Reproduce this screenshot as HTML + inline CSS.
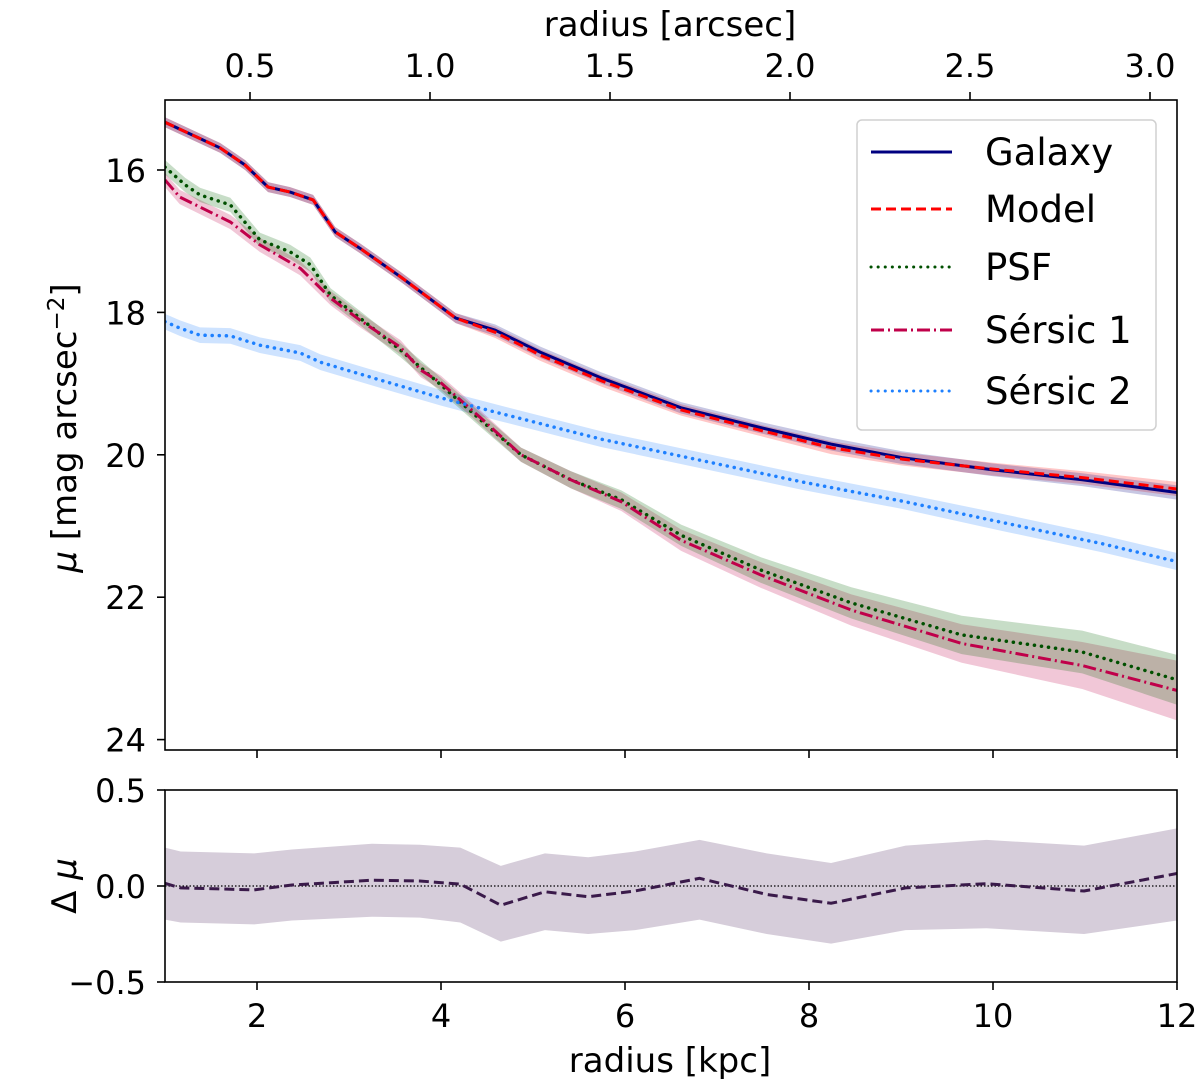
<!DOCTYPE html>
<html><head><meta charset="utf-8"><style>
html,body{margin:0;padding:0;background:#fff}
svg{display:block;font-family:"DejaVu Sans","Liberation Sans",sans-serif}
</style></head><body>
<svg id="chart" width="1200" height="1092" viewBox="0 0 1200 1092"></svg>
<script>
// ---- data ----
const galaxyX=[1.0,1.6,1.87,2.12,2.36,2.61,2.85,3.12,3.56,4.16,4.59,5.08,5.74,6.61,7.48,8.24,9.01,9.99,10.97,12];
const galaxyY=[15.33,15.69,15.93,16.24,16.31,16.42,16.87,17.1,17.5,18.08,18.25,18.56,18.92,19.34,19.62,19.85,20.04,20.21,20.35,20.53];
const galaxyErr=[0.07,0.07,0.07,0.07,0.07,0.07,0.07,0.07,0.07,0.07,0.08,0.08,0.08,0.08,0.08,0.09,0.09,0.09,0.09,0.1];
const modelX=[1.0,1.6,1.87,2.12,2.36,2.61,2.85,3.12,3.56,4.16,4.59,5.08,5.74,6.61,7.48,8.24,9.01,9.99,10.97,12];
const modelY=[15.33,15.69,15.93,16.24,16.31,16.42,16.87,17.1,17.5,18.08,18.28,18.6,18.96,19.37,19.66,19.9,20.06,20.2,20.32,20.48];
const modelErr=[0.07,0.07,0.07,0.07,0.07,0.07,0.07,0.07,0.07,0.07,0.08,0.08,0.08,0.08,0.08,0.09,0.09,0.09,0.09,0.1];
const psfX=[1.0,1.22,1.38,1.71,2.03,2.36,2.58,2.8,3.12,3.56,4.0,4.43,4.87,5.41,5.96,6.61,7.48,8.46,9.66,10.97,12];
const psfY=[15.96,16.21,16.35,16.49,16.98,17.15,17.33,17.76,18.08,18.53,19.02,19.51,20.0,20.35,20.63,21.13,21.62,22.08,22.53,22.77,23.16];
const psfErr=[0.1,0.1,0.1,0.1,0.1,0.1,0.1,0.1,0.1,0.1,0.1,0.1,0.1,0.12,0.13,0.15,0.18,0.22,0.27,0.3,0.35];
const s1X=[1.0,1.16,1.71,2.03,2.47,2.8,3.12,3.56,3.78,4.0,4.43,4.87,5.41,5.96,6.61,7.48,8.46,9.66,10.97,12];
const s1Y=[16.14,16.38,16.73,17.05,17.38,17.8,18.11,18.49,18.81,18.99,19.48,20.0,20.35,20.66,21.2,21.69,22.18,22.65,22.96,23.31];
const s1Err=[0.1,0.1,0.1,0.1,0.1,0.1,0.1,0.1,0.1,0.1,0.1,0.1,0.12,0.13,0.15,0.18,0.22,0.27,0.33,0.42];
const s2X=[1.0,1.16,1.38,1.71,2.03,2.47,2.69,3.34,4.0,4.65,5.74,6.83,7.92,9.01,10.1,11.19,12];
const s2Y=[18.13,18.22,18.32,18.33,18.46,18.57,18.7,18.95,19.2,19.42,19.78,20.08,20.38,20.65,20.95,21.25,21.5];
const s2Err=[0.11,0.11,0.11,0.11,0.11,0.11,0.11,0.11,0.11,0.11,0.11,0.11,0.11,0.11,0.12,0.12,0.12];
const resX=[1.0,1.17,1.97,2.38,3.25,3.77,4.21,4.65,5.13,5.6,6.11,6.81,7.54,8.24,9.05,9.93,10.99,12];
const resY=[0.014,-0.01,-0.02,0.005,0.03,0.026,0.01,-0.1,-0.03,-0.056,-0.026,0.04,-0.044,-0.09,-0.01,0.012,-0.026,0.065];
const resUp=[0.2,0.18,0.17,0.19,0.22,0.215,0.2,0.105,0.17,0.15,0.18,0.24,0.17,0.12,0.21,0.24,0.21,0.3];
const resLo=[-0.175,-0.19,-0.2,-0.18,-0.16,-0.165,-0.19,-0.29,-0.23,-0.25,-0.23,-0.175,-0.25,-0.3,-0.23,-0.22,-0.25,-0.18];
const xTicks=[2,4,6,8,10,12];
const yTicks=[16,18,20,22,24];
const rTicks=[0.5,0,-0.5];
const rTickLabels=["0.5","0.0","\u22120.5"];
const arcTicks=[0.5,1.0,1.5,2.0,2.5,3.0];
const arcTickLabels=["0.5","1.0","1.5","2.0","2.5","3.0"];

// ---- geometry ----
const L=165,R=1177,T1=100,B1=750,T2=790,B2=982;
const xs=v=>L+(v-1)*(R-L)/11;
const ys=v=>170+(v-16)*71.2;
const yr=v=>886-v*192;
const xa=a=>250+(a-0.5)*360;
const svg=document.getElementById('chart');
const NS='http://www.w3.org/2000/svg';
function mk(tag,attrs,parent){const e=document.createElementNS(NS,tag);for(const k in attrs)e.setAttribute(k,attrs[k]);(parent||svg).appendChild(e);return e;}
function txt(s,x,y,size,anchor,parent){const t=mk('text',{x:x,y:y,'font-size':size,'text-anchor':anchor||'middle',fill:'#000'},parent);t.textContent=s;return t;}

const defs=mk('defs',{});
const c1=mk('clipPath',{id:'c1'},defs);mk('rect',{x:L,y:T1,width:R-L,height:B1-T1},c1);
const c2=mk('clipPath',{id:'c2'},defs);mk('rect',{x:L,y:T2,width:R-L,height:B2-T2},c2);
const g1=mk('g',{'clip-path':'url(#c1)'});


const g2=mk('g',{'clip-path':'url(#c2)'});



function band(X,Y,E,color,name,g){
  let p=X.map((x,i)=>xs(x)+','+ys(Y[i]-E[i]));
  for(let i=X.length-1;i>=0;i--)p.push(xs(X[i])+','+ys(Y[i]+E[i]));
  const e=mk('polygon',{points:p.join(' '),fill:color,'fill-opacity':0.22,stroke:'none'},g);
  
  
}
function line(X,Y,color,dash,w,name,g,cap){
  const e=mk('polyline',{points:X.map((x,i)=>xs(x)+','+ys(Y[i])).join(' '),fill:'none',stroke:color,'stroke-width':w,'stroke-dasharray':dash||'none','stroke-linecap':cap||'butt','stroke-linejoin':'round'},g);
  
  
}
band(s2X,s2Y,s2Err,'#1e80ff','sersic2-band',g1);
band(s1X,s1Y,s1Err,'#c0004a','sersic1-band',g1);
band(psfX,psfY,psfErr,'#006400','psf-band',g1);
band(modelX,modelY,modelErr,'#ff0000','model-band',g1);
band(galaxyX,galaxyY,galaxyErr,'#000080','galaxy-band',g1);
line(galaxyX,galaxyY,'#000080',null,3,'galaxy-line',g1);
line(modelX,modelY,'#ff0000','10,5',3,'model-line',g1);
line(psfX,psfY,'#005000','0.1,7',3.5,'psf-line',g1,'round');
line(s1X,s1Y,'#c0004a','13,4,2,4',3,'sersic1-line',g1);
line(s2X,s2Y,'#1e80ff','0.1,7',3.5,'sersic2-line',g1,'round');

{
  let p=resX.map((x,i)=>xs(x)+','+yr(resUp[i]));
  for(let i=resX.length-1;i>=0;i--)p.push(xs(resX[i])+','+yr(resLo[i]));
  const e=mk('polygon',{points:p.join(' '),fill:'#d6cdda',stroke:'none'},g2);
  
  
  const z=mk('line',{x1:L,x2:R,y1:yr(0),y2:yr(0),stroke:'#000','stroke-width':1.3,'stroke-dasharray':'1.5,2'},g2);
  
  
  const r=mk('polyline',{points:resX.map((x,i)=>xs(x)+','+yr(resY[i])).join(' '),fill:'none',stroke:'#3a1a4a','stroke-width':3,'stroke-dasharray':'10,5'},g2);
  
  
}

const f1=mk('rect',{x:L,y:T1,width:R-L,height:B1-T1,fill:'none',stroke:'#000','stroke-width':1.6});


const f2=mk('rect',{x:L,y:T2,width:R-L,height:B2-T2,fill:'none',stroke:'#000','stroke-width':1.6});



xTicks.forEach(v=>{
  mk('line',{x1:xs(v),x2:xs(v),y1:B1,y2:B1+8,stroke:'#000','stroke-width':1.6});
  mk('line',{x1:xs(v),x2:xs(v),y1:B2,y2:B2+8,stroke:'#000','stroke-width':1.6});
  const t=txt(String(v),xs(v),1027,32);
  
  
});
yTicks.forEach(v=>{
  mk('line',{x1:L-8,x2:L,y1:ys(v),y2:ys(v),stroke:'#000','stroke-width':1.6});
  const t=txt(String(v),146,ys(v)+12,32,'end');
  
  
});
rTicks.forEach((v,i)=>{
  mk('line',{x1:L-8,x2:L,y1:yr(v),y2:yr(v),stroke:'#000','stroke-width':1.6});
  const t=txt(rTickLabels[i],146,yr(v)+12,32,'end');
  
  
});
arcTicks.forEach((v,i)=>{
  mk('line',{x1:xa(v),x2:xa(v),y1:T1-8,y2:T1,stroke:'#000','stroke-width':1.6});
  const t=txt(arcTickLabels[i],xa(v),77,32);
  
  
});

let t=txt('radius [arcsec]',670,36,34);


t=txt('radius [kpc]',670,1072,34);


t=mk('text',{x:0,y:0,'font-size':34,'text-anchor':'middle',transform:'translate(76,428) rotate(-90)'});
t.innerHTML='<tspan font-style="italic">μ</tspan> [mag arcsec<tspan dy="-12" font-size="23">−2</tspan><tspan dy="12">]</tspan>';


t=mk('text',{x:0,y:0,'font-size':34,'text-anchor':'middle',transform:'translate(76,886) rotate(-90)'});
t.innerHTML='Δ <tspan font-style="italic">μ</tspan>';



const lg=mk('g',{});


mk('rect',{x:857,y:120,width:299,height:310,rx:5,fill:'#fff','fill-opacity':0.85,stroke:'#d0d0d0','stroke-width':1.5},lg);
const legNames=['Galaxy','Model','PSF','Sérsic 1','Sérsic 2'];
const legColors=['#000080','#ff0000','#005000','#c0004a','#1e80ff'];
const legDash=['none','10,5','0.1,7','13,4,2,4','0.1,7'];
const legY=[152,209,267,330,391];
legNames.forEach((n,i)=>{
  const e=mk('g',{},lg);
  
  
  mk('line',{x1:871,x2:952,y1:legY[i],y2:legY[i],stroke:legColors[i],'stroke-width':3,'stroke-dasharray':legDash[i],'stroke-linecap':legDash[i]==='0.1,7'?'round':'butt'},e);
  txt(n,985,legY[i]+13,37,'start',e);
});
</script>
</body></html>
